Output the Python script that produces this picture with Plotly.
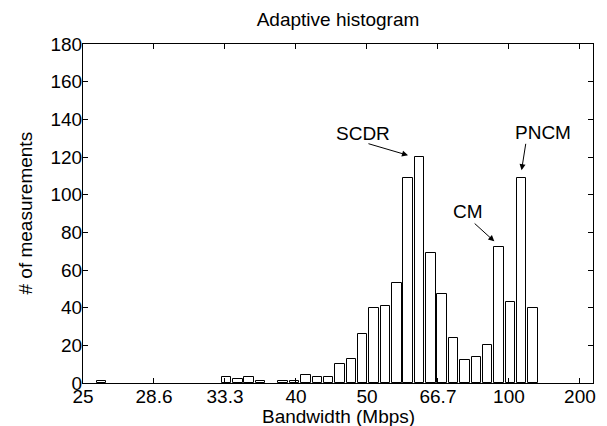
import plotly.graph_objects as go

# Bin centres expressed as dispersion (1000 / bandwidth in Mbps); axis is linear in this
bin_dispersion = [38.7, 29.9, 29.1, 28.3, 27.5, 25.9, 25.1, 24.3, 23.5, 22.7,
                  21.9, 21.1, 20.3, 19.5, 18.7, 17.9, 17.1, 16.3, 15.5, 14.7,
                  13.9, 13.1, 12.3, 11.5, 10.7, 9.9, 9.1, 8.3]
counts = [1, 3, 2, 3, 1, 1, 1, 4, 3, 3,
          10, 13, 26, 40, 41, 53, 109, 120, 69, 47,
          24, 12, 14, 20, 72, 43, 109, 40]

tick_dispersion = [40, 35, 30, 25, 20, 15, 10, 5]
tick_labels = ["25", "28.6", "33.3", "40", "50", "66.7", "100", "200"]

FONT = "Liberation Sans, Arial, Helvetica, sans-serif"
FS = 19
L, R, T, B = 83, 593, 44, 383
W, H = 607, 426

fig = go.Figure()
fig.add_trace(go.Bar(
    x=bin_dispersion, y=counts, width=0.67,
    marker=dict(color="white", line=dict(color="black", width=1)),
    showlegend=False,
))

axis_common = dict(
    showline=True, linecolor="black", linewidth=1, mirror="ticks",
    ticks="inside", ticklen=5, tickcolor="black", tickwidth=1,
    showgrid=False, zeroline=False, automargin=False,
    tickfont=dict(family=FONT, size=FS, color="black"),
)

fig.update_layout(
    width=W, height=H,
    margin=dict(l=L, r=W - R, t=T, b=H - B),
    paper_bgcolor="white", plot_bgcolor="white",
    title=dict(text="Adaptive histogram", x=(L + R) / 2 / W, xanchor="center",
               y=1 - 19 / H, yanchor="middle",
               font=dict(family=FONT, size=FS, color="black")),
    xaxis=dict(range=[40, 4.08], tickvals=tick_dispersion, ticktext=tick_labels,
               ticklabelstandoff=-4, **axis_common),
    yaxis=dict(range=[0, 180], dtick=20, ticklabelstandoff=-4, **axis_common),
    bargap=0,
)

afont = dict(family=FONT, size=FS, color="black")
# axis titles as annotations for exact placement
fig.add_annotation(xref="paper", yref="paper", x=0.5, y=-(416 - B) / (B - T),
                   text="Bandwidth (Mbps)", showarrow=False, font=afont,
                   xanchor="center", yanchor="middle", borderpad=0)
fig.add_annotation(xref="paper", yref="paper", x=(25 - L) / (R - L), y=0.5,
                   text="# of measurements", showarrow=False, font=afont,
                   textangle=-90, xanchor="center", yanchor="middle")

labels = [("SCDR", 20.28, 132.3), ("CM", 12.89, 91.1), ("PNCM", 7.61, 133.1)]
for txt, xx, yy in labels:
    fig.add_annotation(x=xx, y=yy, text=txt, showarrow=False, font=afont,
                       xanchor="center", yanchor="middle")

arrows = [((20.0, 127.3), (17.11, 120.9)),
          ((12.52, 85.4), (11.03, 75.2)),
          ((8.80, 127.8), (9.11, 113.0))]
for (tx, ty), (hx, hy) in arrows:
    fig.add_annotation(x=hx, y=hy, ax=tx, ay=ty, axref="x", ayref="y",
                       text="", showarrow=True, arrowhead=2, arrowsize=1.2,
                       arrowwidth=1, arrowcolor="black")

fig.write_html("out.html")
